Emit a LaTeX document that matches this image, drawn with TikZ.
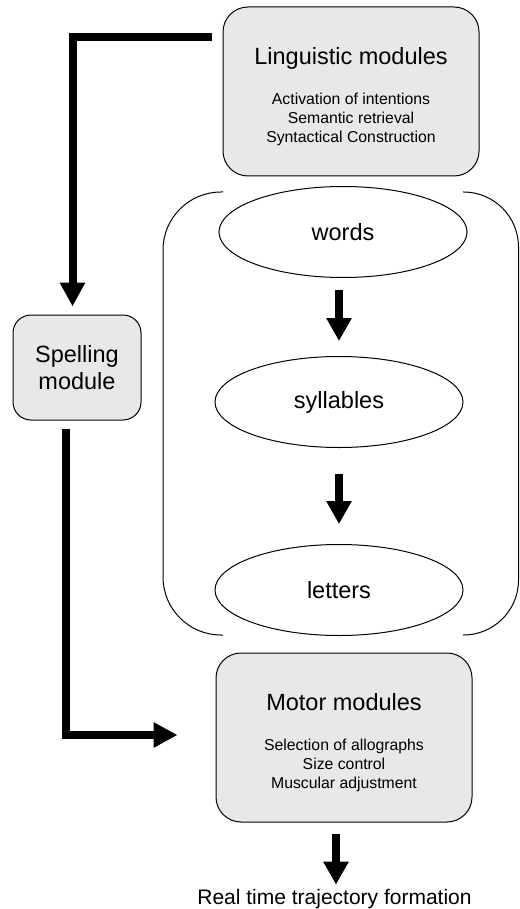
\documentclass[tikz,border=0pt]{standalone}
\usepackage{fontspec}
\setmainfont{Liberation Sans}
\usetikzlibrary{arrows.meta,positioning,shapes.geometric}
\definecolor{modfill}{HTML}{E8E8E8}
\newcommand{\titlesize}{\fontsize{23.5}{27}\selectfont}
\newcommand{\itemsize}{\fontsize{15.8}{19.2}\selectfont}
\newcommand{\toppad}{\rule{0pt}{27.5pt}}

\begin{document}
\begin{tikzpicture}[
  x=1pt, y=-1pt,
  module/.style={rectangle, draw, line width=1pt, fill=modfill, rounded corners=25pt,
    align=center, inner sep=0pt, minimum width=256pt, minimum height=169pt, font=\itemsize},
  level/.style={ellipse, draw, line width=1pt, inner sep=0pt,
    minimum width=248pt, minimum height=91pt, font=\titlesize},
  bigarrow/.style={line width=8pt, -{Triangle[width=24pt, length=23pt]}},
  flow/.style={line width=8pt, line join=miter, -{Triangle[width=24pt, length=24pt]}}
]
\useasboundingbox (0,0) rectangle (519,909);

\node[module] (ling) at (351,91.5)
  {\titlesize\toppad Linguistic modules\\[20pt]Activation of intentions\\Semantic retrieval\\Syntactical Construction};
\node[module, minimum width=128pt, minimum height=105pt, rounded corners=18pt, font=\titlesize] (spell) at (77,367.5)
  {Spelling\\module};
\node[module] (motor) at (344,737.5)
  {\titlesize\toppad Motor modules\\[20pt]Selection of allographs\\Size control\\Muscular adjustment};

% levels of the linguistic output
\node[level] (words) at (343,232) {words};
\node[level] (syll)  at (339,402) {syllables};
\node[level] (lett)  at (339,590) {letters};

% bracket round the three levels
\draw[line width=1pt, rounded corners=58pt] (223,192) -- (163,192) -- (163,635) -- (223,635);
\draw[line width=1pt, rounded corners=55pt] (463,192) -- (518.5,192) -- (518.5,635) -- (463,635);

\node[anchor=base, inner sep=0pt, font=\fontsize{21}{25}\selectfont] (real) at (334.5,904.5)
  {Real time trajectory formation};

\draw[flow] ([xshift=-11pt, yshift=-31pt]ling.north west) -| ([xshift=-4.5pt, yshift=8pt]spell.north);
\draw[flow] ([xshift=-11pt, yshift=-8pt]spell.south) |- ([xshift=-38pt, yshift=2.5pt]motor.west);
\draw[bigarrow] ([yshift=-12pt]words.south -| syll.north) -- ([yshift=15pt]syll.north);
\draw[bigarrow] ([yshift=-26pt]syll.south) -- ([yshift=20pt]lett.north);
\draw[bigarrow] ([xshift=-8pt, yshift=-11pt]motor.south) -- ([xshift=1.5pt, yshift=4.5pt]real.north);
\end{tikzpicture}
\end{document}
